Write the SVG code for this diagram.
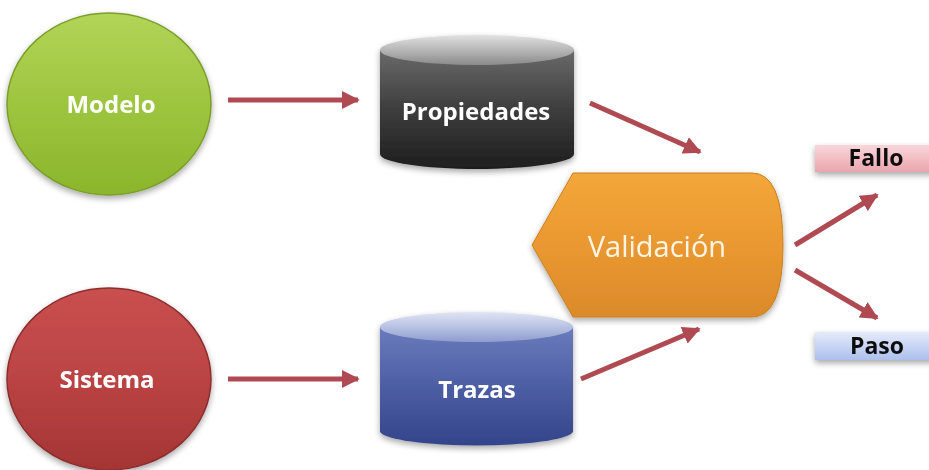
<svg xmlns="http://www.w3.org/2000/svg" width="929" height="470" viewBox="0 0 929 470">
  <defs>
    <linearGradient id="gGreen" x1="0" y1="0" x2="0" y2="1">
      <stop offset="0" stop-color="#b2d458"/>
      <stop offset="0.5" stop-color="#9ec53f"/>
      <stop offset="1" stop-color="#8bb52c"/>
    </linearGradient>
    <linearGradient id="gRed" x1="0" y1="0" x2="0" y2="1">
      <stop offset="0" stop-color="#c9504f"/>
      <stop offset="0.5" stop-color="#bb4343"/>
      <stop offset="1" stop-color="#a43535"/>
    </linearGradient>
    <linearGradient id="gGrayBody" x1="0" y1="0" x2="0" y2="1">
      <stop offset="0" stop-color="#6a6a6a"/>
      <stop offset="0.5" stop-color="#3d3d3d"/>
      <stop offset="1" stop-color="#1e1e1e"/>
    </linearGradient>
    <linearGradient id="gGrayTop" x1="0" y1="0" x2="0" y2="1">
      <stop offset="0" stop-color="#e2e2e2"/>
      <stop offset="1" stop-color="#8a8a8a"/>
    </linearGradient>
    <linearGradient id="gBlueBody" x1="0" y1="0" x2="0" y2="1">
      <stop offset="0" stop-color="#6b7bbb"/>
      <stop offset="0.5" stop-color="#4d5ea4"/>
      <stop offset="1" stop-color="#34448a"/>
    </linearGradient>
    <linearGradient id="gBlueTop" x1="0" y1="0" x2="0" y2="1">
      <stop offset="0" stop-color="#e0e5f4"/>
      <stop offset="1" stop-color="#8e9dcf"/>
    </linearGradient>
    <linearGradient id="gOrange" x1="0" y1="0" x2="0" y2="1">
      <stop offset="0" stop-color="#f3a73a"/>
      <stop offset="0.5" stop-color="#ea9830"/>
      <stop offset="1" stop-color="#db8a2b"/>
    </linearGradient>
    <linearGradient id="gPink" x1="0" y1="0" x2="0" y2="1">
      <stop offset="0" stop-color="#fad6da"/>
      <stop offset="1" stop-color="#e9a6ad"/>
    </linearGradient>
    <linearGradient id="gLightBlue" x1="0" y1="0" x2="0" y2="1">
      <stop offset="0" stop-color="#e4ebfb"/>
      <stop offset="1" stop-color="#adc0ec"/>
    </linearGradient>
    <filter id="shadow" x="-20%" y="-20%" width="140%" height="150%">
      <feGaussianBlur in="SourceAlpha" stdDeviation="3"/>
      <feOffset dx="0" dy="3" result="b"/>
      <feComponentTransfer><feFuncA type="linear" slope="0.35"/></feComponentTransfer>
      <feMerge><feMergeNode/><feMergeNode in="SourceGraphic"/></feMerge>
    </filter>
    <marker id="arrow" viewBox="0 0 10 10" refX="9" refY="5" markerWidth="3.6" markerHeight="3.6" orient="auto" markerUnits="strokeWidth">
      <path d="M0,0 L10,5 L0,10 z" fill="#b04a52"/>
    </marker>
  </defs>
  <style>
    .lbl { font-family: "Open Sans", "Liberation Sans", sans-serif; font-weight: bold; fill: #ffffff; text-anchor: middle; font-size: 24px; }
    .out { font-family: "Open Sans", "Liberation Sans", sans-serif; font-weight: bold; fill: #111111; text-anchor: middle; font-size: 23px; }
    .conn { stroke: #b04a52; stroke-width: 5; fill: none; marker-end: url(#arrow); }
  </style>

  <rect width="929" height="470" fill="#ffffff"/>

  <g id="modelo" filter="url(#shadow)">
    <ellipse cx="109" cy="104" rx="102" ry="91" fill="url(#gGreen)" stroke="#7c9e2c" stroke-width="1.5"/>
    <text class="lbl" x="111" y="113">Modelo</text>
  </g>

  <g id="sistema" filter="url(#shadow)">
    <ellipse cx="109" cy="379" rx="102" ry="91" fill="url(#gRed)" stroke="#8c2d2d" stroke-width="1.5"/>
    <text class="lbl" x="107" y="388">Sistema</text>
  </g>

  <g id="propiedades" filter="url(#shadow)">
    <path d="M380,50 L380,154 A97,15 0 0 0 574,154 L574,50 Z" fill="url(#gGrayBody)"/>
    <ellipse cx="477" cy="50" rx="97" ry="15" fill="url(#gGrayTop)"/>
    <text class="lbl" x="476" y="120">Propiedades</text>
  </g>

  <g id="trazas" filter="url(#shadow)">
    <path d="M380,327 L380,432 A97,15 0 0 0 573,432 L573,327 Z" fill="url(#gBlueBody)"/>
    <ellipse cx="476.5" cy="327" rx="96.5" ry="15" fill="url(#gBlueTop)"/>
    <text class="lbl" x="477" y="398">Trazas</text>
  </g>

  <g id="validacion" filter="url(#shadow)">
    <path d="M532,245 L573,173 L752,173 Q783,173 783,245 Q783,317 752,317 L573,317 Z" fill="url(#gOrange)" stroke="#c9801f" stroke-width="1"/>
    <text x="657" y="257" font-size="29" fill="#fdf6e6" text-anchor="middle" font-family="'Open Sans', 'Liberation Sans', sans-serif">Validación</text>
  </g>

  <g id="fallo" filter="url(#shadow)">
    <rect x="815" y="145" width="120" height="27" fill="url(#gPink)"/>
    <text class="out" x="876" y="166">Fallo</text>
  </g>

  <g id="paso" filter="url(#shadow)">
    <rect x="815" y="332" width="120" height="28" fill="url(#gLightBlue)"/>
    <text class="out" x="877" y="354">Paso</text>
  </g>

  <g id="connectors">
    <line class="conn" x1="228" y1="100" x2="358" y2="100"/>
    <line class="conn" x1="228" y1="379" x2="358" y2="379"/>
    <line class="conn" x1="590" y1="103" x2="700" y2="152"/>
    <line class="conn" x1="581" y1="379" x2="699" y2="329"/>
    <line class="conn" x1="795" y1="245" x2="877" y2="195"/>
    <line class="conn" x1="795" y1="270" x2="877" y2="318"/>
  </g>
</svg>
